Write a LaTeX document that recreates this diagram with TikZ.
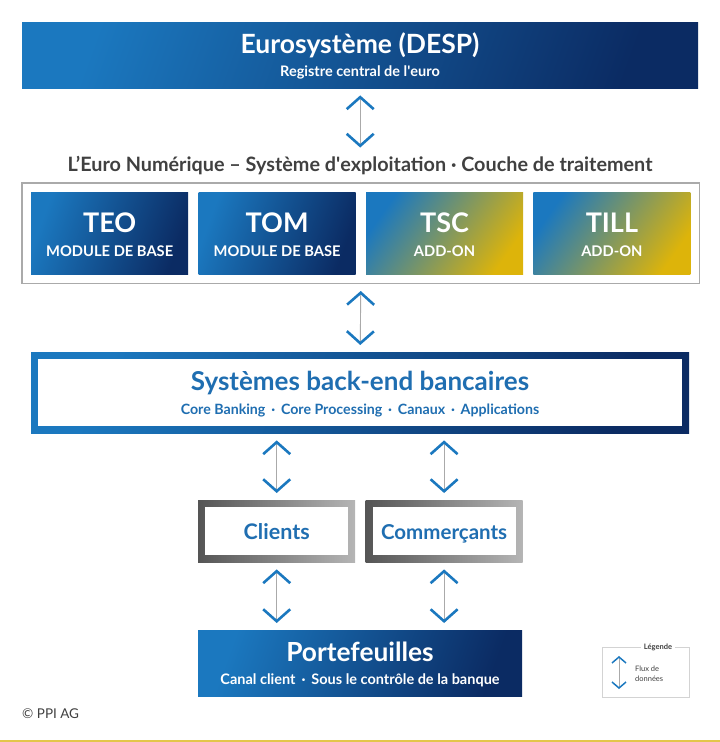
\documentclass[tikz,border=0pt]{standalone}
\usepackage{fontspec}
\setmainfont{Lato}
\usetikzlibrary{positioning, fit, arrows.meta}

\definecolor{ppiblue}{HTML}{1B78BF}
\definecolor{ppinavy}{HTML}{0B2B63}
\definecolor{ppiyellow}{HTML}{DDB40A}
\definecolor{ppitext}{HTML}{1F6EB1}
\definecolor{ppigray}{HTML}{404040}
\definecolor{ppiline}{HTML}{AAAAAA}
\definecolor{ppidark}{HTML}{555555}
\definecolor{ppilight}{HTML}{B5B5B5}
\definecolor{ppirule}{HTML}{E3C64A}

\newcommand{\fs}[1]{\fontsize{#1}{#1}\selectfont}

\tikzset{
  bluebox/.style={left color=ppiblue, right color=ppinavy, shading angle=70, inner sep=0pt},
  addonbox/.style={left color=ppiblue, right color=ppiyellow, shading angle=55, inner sep=0pt},
  greybox/.style={left color=ppidark, right color=ppilight, inner sep=0pt},
  modbox/.style={minimum width=157pt, minimum height=82pt},
  flow/.style={draw=ppiline, line width=0.9pt, shorten <=7pt, shorten >=7pt,
    {Straight Barb[color=ppiblue, line width=2.6pt, length=12pt, width=27pt]}-{Straight Barb[color=ppiblue, line width=2.6pt, length=12pt, width=27pt]}},
  whitetxt/.style={text=white, font=\bfseries, inner sep=0pt, anchor=base},
  bluetxt/.style={text=ppitext, font=\bfseries, inner sep=0pt, anchor=base},
}

\begin{document}
\begin{tikzpicture}[x=1pt, y=-1pt]
  \useasboundingbox (0,0) rectangle (720,742);
  \fill[ppirule] (0,739.5) rectangle (720,742);

  % Eurosysteme
  \node[bluebox, anchor=north west, minimum width=676pt, minimum height=66pt] (desp) at (22,22) {};
  \node[whitetxt] (desptitle) at (360,53) {\fs{26.5}Eurosystème (DESP)};
  \node[whitetxt] (despsub) at (360,76) {\fs{14.5}Registre central de l\textquotesingle euro};

  \node[text=ppigray, font=\bfseries, anchor=base, inner sep=1pt] (heading) at (360,171)
    {\fs{19.8}L’Euro Numérique – Système d\textquotesingle exploitation · Couche de traitement};

  % modules
  \node[bluebox, modbox, anchor=north west] (teo) at (31,192) {};
  \node[bluebox, modbox, right=10pt of teo] (tom) {};
  \node[addonbox, modbox, right=10pt of tom] (tsc) {};
  \node[addonbox, modbox, right=10pt of tsc] (till) {};
  \node[draw=ppiline, line width=1.2pt, inner sep=9pt, fit=(teo)(tom)(tsc)(till)] (layer) {};

  \foreach \m/\t/\s in {teo/TEO/MODULE DE BASE, tom/TOM/MODULE DE BASE, tsc/TSC/ADD-ON, till/TILL/ADD-ON}{
    \node[whitetxt] (\m name) at ([yshift=1pt]\m.center) {\fs{27}\t};
    \node[whitetxt] (\m kind) at ([yshift=-23pt]\m.center) {\fs{14.7}\s};
  }

  % back-end
  \node[bluebox, anchor=north west, minimum width=658pt, minimum height=81pt] (backend) at (31,352) {};
  \node[fill=white, minimum width=644pt, minimum height=67pt, inner sep=0pt] (backendin) at (backend.center) {};
  \node[bluetxt] (backendtitle) at (360,390) {\fs{26}Systèmes back-end bancaires};
  \node[bluetxt] (backendsub) at (360,414) {\fs{14.2}Core Banking \,·\, Core Processing \,·\, Canaux \,·\, Applications};

  % clients
  \node[greybox, anchor=north west, minimum width=157pt, minimum height=62pt] (clients) at (198,500) {};
  \node[greybox, right=10pt of clients, minimum width=157pt, minimum height=62pt] (merchants) {};
  \node[fill=white, minimum width=143pt, minimum height=48pt, inner sep=0pt] (clientsin) at (clients.center) {};
  \node[fill=white, minimum width=143pt, minimum height=48pt, inner sep=0pt] (merchantsin) at (merchants.center) {};
  \node[bluetxt] (clientstxt) at ([yshift=-8pt]clients.center) {\fs{21.5}Clients};
  \node[bluetxt] (merchantstxt) at ([yshift=-8pt]merchants.center) {\fs{20.5}Commerçants};

  % portefeuilles
  \node[bluebox, anchor=north west, minimum width=324pt, minimum height=66pt] (wallets) at (198,630) {};
  \node[whitetxt] (walletstitle) at (360,661) {\fs{26.3}Portefeuilles};
  \node[whitetxt] (walletssub) at (360,684) {\fs{14.5}Canal client \,·\, Sous le contrôle de la banque};

  % flux
  \draw[flow] (desp.south) -- (desp.south |- heading.north);
  \draw[flow] (layer.south) -- (backend.north);
  \draw[flow] (backend.south -| clients.north) -- (clients.north);
  \draw[flow] (backend.south -| merchants.north) -- (merchants.north);
  \draw[flow] (clients.south) -- (clients.south |- wallets.north);
  \draw[flow] (merchants.south) -- (merchants.south |- wallets.north);

  % legende
  \node[draw=ppilight!60, line width=0.6pt, anchor=north west, minimum width=87pt, minimum height=50pt, inner sep=0pt] (legend) at (602,647) {};
  \node[fill=white, text=ppigray, font=\bfseries\fs{7.5}, inner sep=2.5pt] (legendtitle) at (658,647) {Légende};
  \node[text=ppigray, anchor=west, align=left, inner sep=0pt, font=\fs{7.5}] (legendtxt) at (635,674) {Flux de\\[3pt]données};
  \coordinate (legendtop) at (619,656);
  \coordinate (legendbot) at (619,689);
  \draw[draw=ppiline, line width=0.6pt,
    {Straight Barb[color=ppiblue, line width=1.5pt, length=6pt, width=14pt]}-{Straight Barb[color=ppiblue, line width=1.5pt, length=6pt, width=14pt]}]
    (legendtop) -- (legendbot);

  \node[text=ppigray, anchor=base west, inner sep=0pt] (copyright) at (22,718) {\fs{13.5}© PPI AG};
\end{tikzpicture}
\end{document}
